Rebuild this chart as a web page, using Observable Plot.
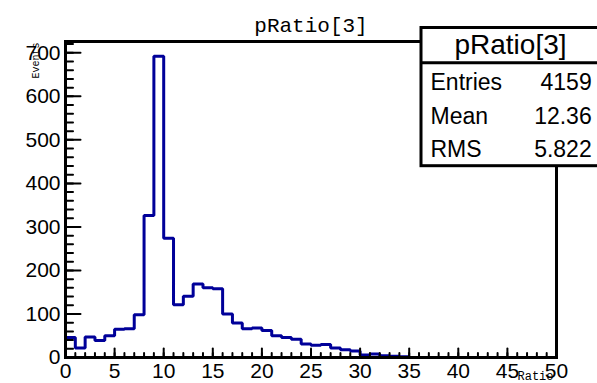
<!DOCTYPE html>
<html><head><meta charset="utf-8">
<script src="https://cdn.jsdelivr.net/npm/d3@7"></script>
<script src="https://cdn.jsdelivr.net/npm/@observablehq/plot@0.6"></script>
<style>html,body{margin:0;padding:0;background:#fff;}</style>
</head><body><div id="chart"></div>
<script>
// Bin contents (bins of width 1 from 0 to 50)
const counts = [46,22,47,39,50,65,66,98,326,692,274,121,141,169,160,158,100,79,66,68,62,50,46,42,31,28,30,22,18,15,6,8,4,3,2,0,0,0,0,0,0,0,0,0,0,0,0,0,0,0];
const xMajorTicks = [0,5,10,15,20,25,30,35,40,45,50];
const xMinorTicks = d3.range(0, 51, 1);
const yMajorTicks = [0,100,200,300,400,500,600,700];
const yMinorTicks = d3.range(0, 721, 20);
const histTitle = "pRatio[3]";
const statLabels = ["Entries", "Mean", "RMS"];
const statValues = ["4159", "12.36", "5.822"];
const xTitle = "Ratio";
const yTitle = "Events";

const steps = counts.map((c, i) => ({x: i, y: c})).concat([{x: counts.length, y: counts[counts.length - 1]}]);
const tickShape = {draw(context, l) { context.moveTo(0, 0); context.lineTo(0, -l); }};

const statsBox = (index, scales, values, dims) => {
  const g = d3.create("svg:g").attr("font-family", "'Liberation Sans', Arial, Helvetica, sans-serif");
  const L = dims.width - 176, R = dims.width + 6, T = 27.5, S = 62.7, B = 165.7;
  g.append("rect").attr("x", L).attr("y", T).attr("width", R - L).attr("height", B - T)
    .attr("fill", "white").attr("stroke", "black").attr("stroke-width", 3);
  g.append("line").attr("x1", L).attr("x2", R).attr("y1", S).attr("y2", S)
    .attr("stroke", "black").attr("stroke-width", 3);
  g.append("text").attr("x", 510.5).attr("y", 53.5).attr("text-anchor", "middle")
    .attr("font-size", 28).attr("fill", "black").text(histTitle);
  const rowBase = [90, 124.3, 156.7];
  statLabels.forEach((lab, i) => {
    g.append("text").attr("x", L + 9.5).attr("y", rowBase[i]).attr("text-anchor", "start")
      .attr("font-size", 23).attr("fill", "black").text(lab);
    g.append("text").attr("x", dims.width - 5.3).attr("y", rowBase[i]).attr("text-anchor", "end")
      .attr("font-size", 23).attr("fill", "black").text(statValues[i]);
  });
  return g.node();
};

const chart = Plot.plot({
  width: 597, height: 383,
  marginLeft: 65, marginRight: 41, marginTop: 41, marginBottom: 26,
  x: {domain: [0, 50]},
  y: {domain: [0, 726]},
  style: {fontFamily: "'Liberation Sans', Arial, Helvetica, sans-serif", fontSize: "21px", background: "white", color: "black"},
  marks: [
    Plot.line(steps, {x: "x", y: "y", curve: "step-after", stroke: "#000099", strokeWidth: 3, strokeLinejoin: "miter"}),
    Plot.vector(xMinorTicks, {x: d => d, frameAnchor: "bottom", length: 4.5, rotate: 0, anchor: "start", shape: tickShape, stroke: "black", strokeWidth: 2}),
    Plot.vector(xMajorTicks, {x: d => d, frameAnchor: "bottom", length: 9, rotate: 0, anchor: "start", shape: tickShape, stroke: "black", strokeWidth: 2}),
    Plot.vector(yMinorTicks, {y: d => d, frameAnchor: "left", length: 7.5, rotate: 90, anchor: "start", shape: tickShape, stroke: "black", strokeWidth: 2}),
    Plot.vector(yMajorTicks, {y: d => d, frameAnchor: "left", length: 15, rotate: 90, anchor: "start", shape: tickShape, stroke: "black", strokeWidth: 2}),
    Plot.frame({stroke: "black", strokeWidth: 3}),
    Plot.axisX({ticks: xMajorTicks, tickSize: 0, tickPadding: 6, label: null, fontSize: 21}),
    Plot.axisY({ticks: yMajorTicks, tickSize: 0, tickPadding: 5, label: null, fontSize: 21}),
    Plot.text([histTitle], {text: d => d, frameAnchor: "top", dy: -9.5, lineAnchor: "bottom", fontFamily: "'Liberation Mono', 'Courier New', monospace", fontSize: 21}),
    Plot.text([xTitle], {text: d => d, frameAnchor: "bottom-right", dx: -3, dy: 22, textAnchor: "end", lineAnchor: "bottom", fontFamily: "'Liberation Mono', monospace", fontSize: 12}),
    Plot.text([yTitle], {text: d => d, frameAnchor: "top-left", dx: -34, dy: 1, rotate: -90, textAnchor: "end", fontFamily: "'Liberation Mono', monospace", fontSize: 10}),
    statsBox
  ]
});
document.getElementById("chart").appendChild(chart);
</script>
</body></html>
